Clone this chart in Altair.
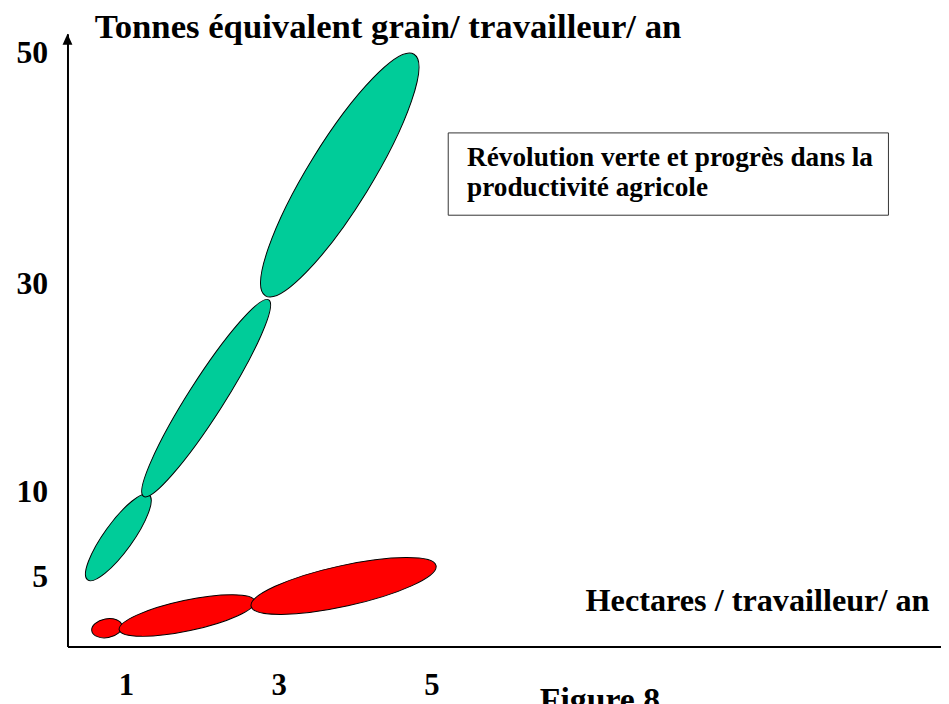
import altair as alt
import pandas as pd

# ---- data ----
ellipse_id = ["v1", "v2", "v3", "t1", "t2", "t3"]
group = ["Révolution verte"] * 3 + ["Agriculture manuelle"] * 3
hectares = [0.9, 2.05, 3.8, 0.75, 1.8, 3.85]      # centre, ha / travailleur / an
tonnes = [7.3, 19.0, 39.4, 1.3, 2.2, 4.3]          # centre, t équivalent grain

x_ticks = [1, 3, 5]
y_ticks = [5, 10, 30, 50]

# ---- styles (pixel sizes / orientation of each ellipse) ----
major_px = [106, 235, 286, 31, 140, 191]
minor_px = [29, 36, 64, 19, 31, 41]
angle_deg = [305.8, 302.5, 301.6, 350, 348, 347.6]
colors = {"Révolution verte": "#00CC99", "Agriculture manuelle": "#FF0000"}

FONT = "Liberation Serif"
K = 0.5523


def ellipse_path(r):
    a, b = K * r, r
    return (f"M -1 0 C -1 {-a:.4f} {-K} {-b:.4f} 0 {-b:.4f} "
            f"C {K} {-b:.4f} 1 {-a:.4f} 1 0 "
            f"C 1 {a:.4f} {K} {b:.4f} 0 {b:.4f} "
            f"C {-K} {b:.4f} -1 {a:.4f} -1 0 Z")


paths = [ellipse_path(mi / ma) for mi, ma in zip(minor_px, major_px)]

df = pd.DataFrame({
    "id": ellipse_id,
    "group": group,
    "hectares": hectares,
    "tonnes": tonnes,
    "size": [m * m for m in major_px],
    "angle": angle_deg,
})

W, H = 881, 618
x_scale = alt.Scale(domain=[0.2338, 11.675], nice=False, zero=False)
y_scale = alt.Scale(domain=[0, 5, 10, 30, 50, 51.63],
                    range=[618, 547, 462, 252, 19, 0], nice=False, zero=False)

x_axis = alt.Axis(values=x_ticks, ticks=False, grid=False, domainColor="black",
                  domainWidth=2, labelFont=FONT, labelFontWeight="bold",
                  labelFontSize=31, labelColor="black", labelPadding=24,
                  title="Hectares / travailleur/ an", titleFont=FONT,
                  titleFontWeight="bold", titleFontSize=32.5, titleColor="black",
                  titleAlign="left", titleBaseline="alphabetic",
                  titleX=522, titleY=-36)
y_axis = alt.Axis(values=y_ticks, ticks=False, grid=False, domainColor="black",
                  domainWidth=2, labelFont=FONT, labelFontWeight="bold",
                  labelFontSize=32, labelColor="black", labelPadding=20,
                  title="Tonnes équivalent grain/ travailleur/ an", titleFont=FONT,
                  titleFontWeight="bold", titleFontSize=35, titleColor="black",
                  titleAngle=0, titleAlign="left", titleBaseline="alphabetic",
                  titleX=27, titleY=4)

ellipses = alt.Chart(df).mark_point(filled=True, opacity=1, stroke="black",
                                    strokeWidth=1, strokeOpacity=1).encode(
    x=alt.X("hectares:Q", scale=x_scale, axis=x_axis),
    y=alt.Y("tonnes:Q", scale=y_scale, axis=y_axis),
    shape=alt.Shape("id:N", scale=alt.Scale(domain=ellipse_id, range=paths), legend=None),
    size=alt.Size("size:Q", scale=None),
    angle=alt.Angle("angle:Q", scale=None),
    fill=alt.Fill("group:N", scale=alt.Scale(domain=list(colors), range=list(colors.values())),
                  legend=None),
)

one = pd.DataFrame({"a": [0]})

arrow = alt.Chart(one).mark_point(
    shape="M 0 0 L -0.45 1 L 0.45 1 Z", size=484, filled=True, fill="black",
    opacity=1, strokeWidth=0
).encode(x=alt.value(0), y=alt.value(0))

box = alt.Chart(one).mark_rect(fill="white", stroke="#333333", strokeWidth=1).encode(
    x=alt.value(384), x2=alt.value(828), y=alt.value(100), y2=alt.value(183)
)
box_text = alt.Chart(one).mark_text(
    font=FONT, fontWeight="bold", fontSize=27.5, align="left", baseline="alphabetic",
    lineHeight=31, color="black"
).encode(
    x=alt.value(403), y=alt.value(133),
    text=alt.value(["Révolution verte et progrès dans la", "productivité agricole"])
)
fig_text = alt.Chart(one).mark_text(
    font=FONT, fontWeight="bold", fontSize=34, align="center", baseline="alphabetic",
    color="black"
).encode(x=alt.value(537), y=alt.value(683), text=alt.value("Figure 8"))

chart = alt.layer(ellipses, arrow, box, box_text, fig_text).properties(
    width=W, height=H,
    autosize=alt.AutoSizeParams(type="none"),
    padding={"left": 60, "top": 23, "right": 0, "bottom": 55},
    background="white",
).configure_view(stroke=None)

chart.save("out.html", embed_options={"renderer": "svg", "actions": False})
